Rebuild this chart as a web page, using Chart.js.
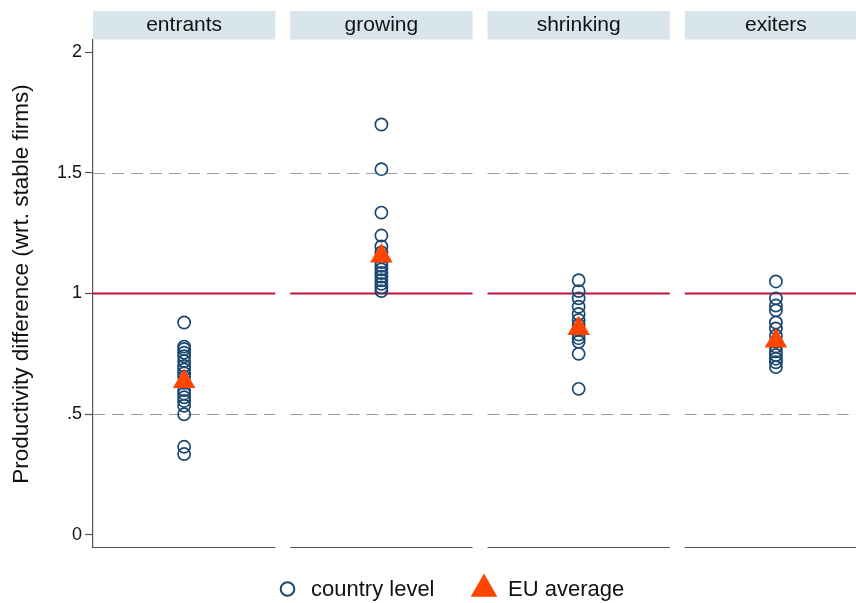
<!DOCTYPE html>
<html>
<head>
<meta charset="utf-8">
<script src="https://cdn.jsdelivr.net/npm/chart.js@4.4.1/dist/chart.umd.min.js"></script>
<style>
  html, body { margin: 0; padding: 0; background: #fff; }
  #wrap { width: 856px; height: 603px; position: relative; }
</style>
</head>
<body>
<div id="wrap"><canvas id="c" width="856" height="603"></canvas></div>
<script>
// ---- data ----
const categories = ['entrants', 'growing', 'shrinking', 'exiters'];
const entrants  = [0.88, 0.78, 0.77, 0.755, 0.74, 0.72, 0.70, 0.685, 0.67, 0.655, 0.63, 0.60, 0.585, 0.57, 0.555, 0.535, 0.50, 0.365, 0.335];
const growing   = [1.70, 1.515, 1.335, 1.24, 1.195, 1.17, 1.15, 1.13, 1.115, 1.10, 1.085, 1.07, 1.055, 1.04, 1.025, 1.01];
const shrinking = [1.055, 1.01, 0.98, 0.945, 0.915, 0.89, 0.87, 0.85, 0.83, 0.815, 0.80, 0.75, 0.605];
const exiters   = [1.05, 0.98, 0.95, 0.93, 0.88, 0.855, 0.825, 0.80, 0.78, 0.76, 0.745, 0.73, 0.715, 0.695];
const euAverage = [0.635, 1.155, 0.855, 0.803];
const yTickValues = [0, 0.5, 1, 1.5, 2];
const yTickLabels = ['0', '.5', '1', '1.5', '2'];
const dashedRefs = [0.5, 1.5];
const solidRef = 1;
const legendLabels = ['country level', 'EU average'];
const yTitle = 'Productivity difference (wrt. stable firms)';

// ---- styles ----
const NAVY = '#1a476f';
const ORANGE = '#ff4500';
const CRIMSON = '#c3103d';
const STRIP = '#d9e5ec';
const AXIS = '#555555';
const FONT = '"Liberation Sans", Arial, sans-serif';
const HALF = 0.462; // half panel width in x units

const countrySeries = [entrants, growing, shrinking, exiters];
const countryPoints = [];
countrySeries.forEach((arr, i) => arr.forEach(v => countryPoints.push({ x: i, y: v })));
const euPoints = euAverage.map((v, i) => ({ x: i, y: v }));

function triangle(ctx, cx, cy, r) {
  ctx.beginPath();
  for (let k = 0; k < 3; k++) {
    const a = k * 2 * Math.PI / 3;
    const px = cx + Math.sin(a) * r, py = cy - Math.cos(a) * r;
    if (k === 0) ctx.moveTo(px, py); else ctx.lineTo(px, py);
  }
  ctx.closePath();
}

const facetPlugin = {
  id: 'facets',
  beforeDatasetsDraw(chart) {
    const { ctx, chartArea, scales: { x, y } } = chart;
    ctx.save();
    categories.forEach((name, i) => {
      const l = x.getPixelForValue(i - HALF);
      const r = Math.min(x.getPixelForValue(i + HALF), chart.width);
      // dashed reference lines
      ctx.strokeStyle = '#9a9a9a';
      ctx.lineWidth = 1.2;
      ctx.setLineDash([12, 7]);
      dashedRefs.forEach(v => {
        const py = Math.round(y.getPixelForValue(v)) + 0.5;
        ctx.beginPath(); ctx.moveTo(l, py); ctx.lineTo(r, py); ctx.stroke();
      });
      ctx.setLineDash([]);
      // solid line at 1
      ctx.strokeStyle = CRIMSON;
      ctx.lineWidth = 1.8;
      const py1 = y.getPixelForValue(solidRef);
      ctx.beginPath(); ctx.moveTo(l, py1); ctx.lineTo(r, py1); ctx.stroke();
      // bottom axis line
      ctx.strokeStyle = AXIS;
      ctx.lineWidth = 1.2;
      const pb = chartArea.bottom + 0.5;
      ctx.beginPath(); ctx.moveTo(l, pb); ctx.lineTo(r, pb); ctx.stroke();
      // header strip
      ctx.fillStyle = STRIP;
      ctx.fillRect(l, 11, r - l, 28.5);
      ctx.fillStyle = '#111';
      ctx.font = '21px ' + FONT;
      ctx.textAlign = 'center';
      ctx.textBaseline = 'middle';
      ctx.fillText(name, x.getPixelForValue(i), 25.5);
    });
    ctx.restore();
  },
  afterDraw(chart) {
    const { ctx, scales: { y } } = chart;
    const ds = chart.data.datasets;
    ctx.save();
    // y-axis title
    ctx.save();
    ctx.translate(22, 284);
    ctx.rotate(-Math.PI / 2);
    ctx.font = '22.5px ' + FONT;
    ctx.fillStyle = '#111';
    ctx.textAlign = 'center';
    ctx.textBaseline = 'middle';
    ctx.fillText(yTitle, 0, 0);
    ctx.restore();
    // legend
    const cy = 589;
    ctx.font = '22px ' + FONT;
    ctx.textBaseline = 'middle';
    ctx.textAlign = 'left';
    ctx.strokeStyle = ds[1].borderColor;
    ctx.lineWidth = 2;
    ctx.beginPath(); ctx.arc(287.5, cy, 6.8, 0, Math.PI * 2); ctx.stroke();
    ctx.fillStyle = '#111';
    ctx.fillText(legendLabels[0], 311, cy + 1);
    ctx.fillStyle = ds[0].backgroundColor;
    triangle(ctx, 484, cy, 15.4);
    ctx.fill();
    ctx.fillStyle = '#111';
    ctx.fillText(legendLabels[1], 508, cy + 1);
    ctx.restore();
  }
};

new Chart(document.getElementById('c'), {
  type: 'scatter',
  data: {
    datasets: [
      {
        label: legendLabels[1],
        data: euPoints,
        pointStyle: 'triangle',
        pointRadius: 13,
        pointHoverRadius: 13,
        backgroundColor: ORANGE,
        borderColor: ORANGE,
        borderWidth: 0,
        order: 0
      },
      {
        label: legendLabels[0],
        data: countryPoints,
        pointStyle: 'circle',
        pointRadius: 6.1,
        pointHoverRadius: 6.1,
        backgroundColor: 'rgba(0,0,0,0)',
        borderColor: NAVY,
        borderWidth: 1.7,
        order: 1
      }
    ]
  },
  options: {
    responsive: false,
    animation: false,
    events: [],
    layout: { autoPadding: false, padding: { top: 40, bottom: 56, left: 0, right: 0 } },
    plugins: {
      legend: { display: false },
      tooltip: { enabled: false },
      title: { display: false }
    },
    scales: {
      x: {
        type: 'linear',
        display: false,
        min: -HALF,
        max: 3.406
      },
      y: {
        type: 'linear',
        min: -0.05,
        max: 2.05,
        afterBuildTicks(scale) {
          scale.ticks = yTickValues.map(v => ({ value: v }));
        },
        afterFit(scale) { scale.width = 93; },
        ticks: {
          callback(value) {
            const idx = yTickValues.indexOf(value);
            return idx >= 0 ? yTickLabels[idx] : '';
          },
          font: { family: FONT, size: 18 },
          color: '#111',
          padding: 3
        },
        grid: {
          drawOnChartArea: false,
          drawTicks: true,
          tickLength: 8,
          tickColor: AXIS,
          tickWidth: 1.2
        },
        border: { display: true, color: AXIS, width: 1.2 },
        title: { display: false }
      }
    }
  },
  plugins: [facetPlugin]
});
</script>
</body>
</html>
